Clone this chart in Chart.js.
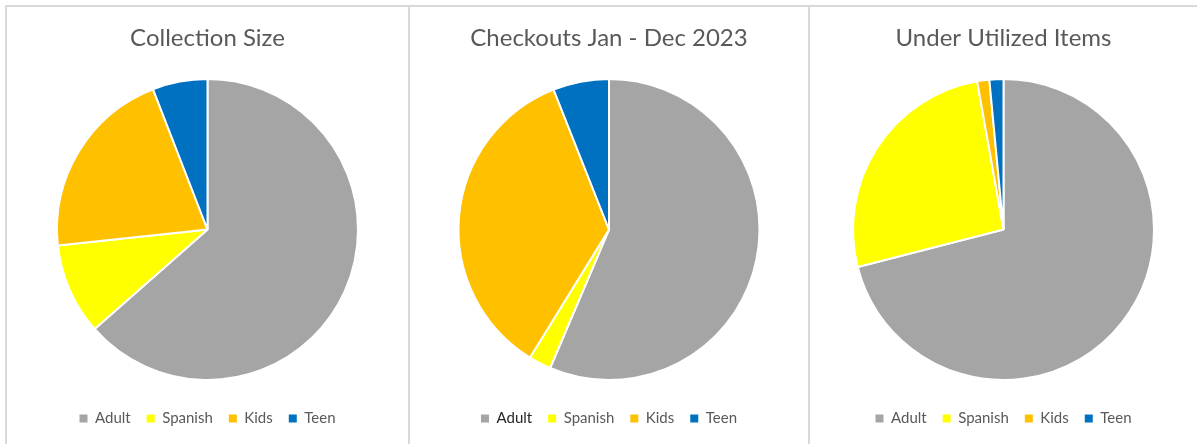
<!DOCTYPE html>
<html>
<head>
<meta charset="utf-8">
<script src="https://cdn.jsdelivr.net/npm/chart.js@4"></script>
<style>
  html, body { margin: 0; padding: 0; background: #fff; }
  body { width: 1197px; height: 444px; position: relative; overflow: hidden; }
  .panel { position: absolute; top: 6px; height: 438px; }
  .frame { position: absolute; background: #d9d9d9; }
</style>
</head>
<body>
<div class="frame" style="left:5px;top:5px;width:1192px;height:2px"></div>
<div class="frame" style="left:5px;top:5px;width:2px;height:439px"></div>
<div class="frame" style="left:408px;top:5px;width:2px;height:439px"></div>
<div class="frame" style="left:808px;top:5px;width:2px;height:439px"></div>
<div class="panel" style="left:7px;width:401px"><canvas id="pie1"></canvas></div>
<div class="panel" style="left:410px;width:398px"><canvas id="pie2"></canvas></div>
<div class="panel" style="left:810px;width:387px"><canvas id="pie3"></canvas></div>
<script>
// categories and slice shares (percent), read clockwise from 12 o'clock
const categories = ['Adult', 'Spanish', 'Kids', 'Teen'];
const sliceColors = ['#A5A5A5', '#FFFF00', '#FFC000', '#0070C0'];

const collectionSize = [63.5, 9.8, 20.8, 5.9];
const checkouts = [56.4, 2.4, 35.2, 6.0];
const underUtilized = [71.0, 26.2, 1.3, 1.5];

const titles = ['Collection Size', 'Checkouts Jan - Dec 2023', 'Under Utilized Items'];

// push the legend a bit further below the pie
const legendShift = {
  id: 'legendShift',
  afterLayout(chart) {
    chart.legend.top += 14;
    chart.legend.bottom += 14;
  }
};

// Render one pie chart
function renderPie(canvasId, title, values, boldFirst) {
  const ctx = document.getElementById(canvasId).getContext('2d');
  return new Chart(ctx, {
    type: 'pie',
    data: {
      labels: categories,
      datasets: [{
        data: values,
        backgroundColor: sliceColors,
        borderColor: '#ffffff',
        borderWidth: 2
      }]
    },
    options: {
      responsive: true,
      maintainAspectRatio: false,
      animation: false,
      layout: { padding: { top: 0, bottom: 22 } },
      plugins: {
        title: {
          display: true,
          text: title,
          color: '#595959',
          font: { family: 'Lato', size: 24, weight: 'normal' },
          padding: { top: 17.6, bottom: 25.6 }
        },
        legend: {
          position: 'bottom',
          labels: {
            color: '#595959',
            font: { family: 'Lato', size: 15 },
            boxWidth: 8,
            boxHeight: 8,
            padding: 16,
            generateLabels: chart => {
              const items = Chart.overrides.pie.plugins.legend.labels.generateLabels(chart);
              items.forEach((it, i) => {
                it.strokeStyle = it.fillStyle;
                it.lineWidth = 0;
                if (boldFirst && i === 0) it.fontColor = '#262626';
              });
              return items;
            }
          }
        },
        tooltip: { enabled: false }
      }
    },
    plugins: [legendShift]
  });
}

renderPie('pie1', titles[0], collectionSize, false);
renderPie('pie2', titles[1], checkouts, true);
renderPie('pie3', titles[2], underUtilized, false);
</script>
</body>
</html>
